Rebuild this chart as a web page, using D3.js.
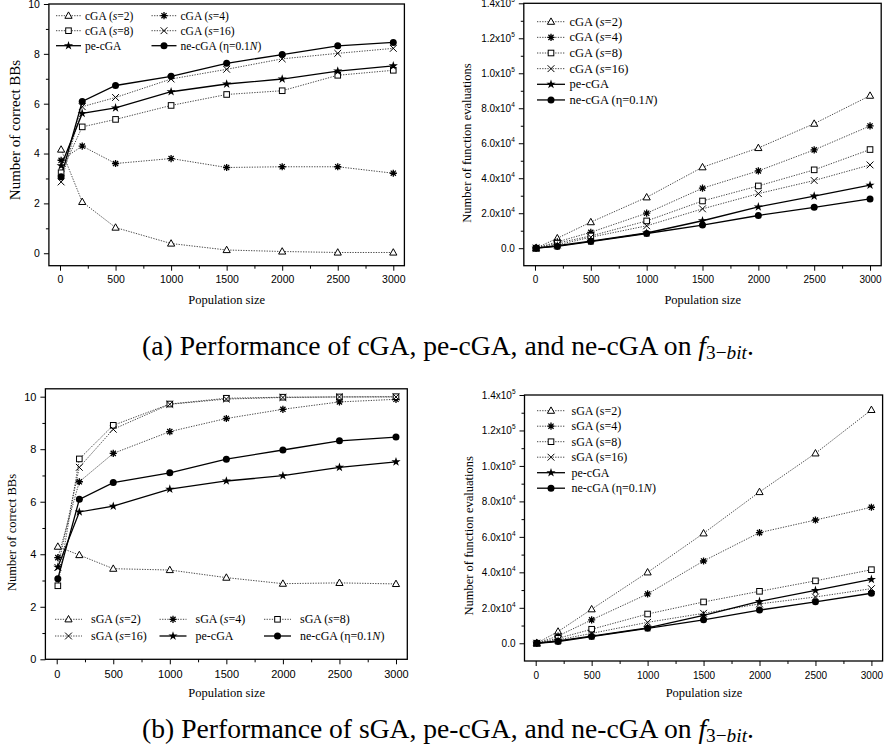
<!DOCTYPE html>
<html><head><meta charset="utf-8">
<script src="https://cdn.jsdelivr.net/npm/d3@7"></script>
<style>body{margin:0;background:#fff}</style>
</head><body>
<svg id="fig" width="884" height="749"></svg>
<script>
// Population sizes tested
const popSizes = [10, 200, 500, 1000, 1500, 2000, 2500, 3000];

// Number of correct building blocks
const bbCGA2  = [4.16, 2.06, 1.03, 0.39, 0.13, 0.07, 0.03, 0.03];
const bbCGA4  = [3.73, 4.30, 3.60, 3.80, 3.44, 3.47, 3.47, 3.21];
const bbCGA8  = [3.23, 5.07, 5.37, 5.93, 6.37, 6.52, 7.14, 7.34];
const bbCGA16 = [2.86, 5.88, 6.25, 6.99, 7.38, 7.80, 8.02, 8.22];
const bbSGA2  = [4.29, 3.97, 3.45, 3.40, 3.11, 2.88, 2.91, 2.87];
const bbSGA4  = [3.87, 6.76, 7.84, 8.67, 9.17, 9.52, 9.80, 9.90];
const bbSGA8  = [2.80, 7.63, 8.91, 9.72, 9.94, 9.98, 9.99, 10.0];
const bbSGA16 = [3.50, 7.31, 8.76, 9.71, 9.91, 9.97, 9.99, 9.99];
const bbPE    = [3.51, 5.61, 5.83, 6.48, 6.79, 6.99, 7.31, 7.52];
const bbNE    = [3.07, 6.09, 6.73, 7.10, 7.62, 7.97, 8.32, 8.46];

// Number of function evaluations
const feCGA2  = [60, 5700, 14900, 29100, 46300, 57300, 71200, 87200];
const feCGA4  = [50, 3600, 9100, 20000, 34300, 44200, 56200, 69900];
const feCGA8  = [40, 2900, 7000, 15600, 27000, 35600, 44800, 56400];
const feCGA16 = [30, 1900, 6300, 12800, 22500, 31200, 38700, 47600];
const feSGA2  = [60, 6600, 19200, 40000, 62000, 85300, 107100, 131600];
const feSGA4  = [50, 4100, 13200, 27800, 46400, 62400, 69500, 76700];
const feSGA8  = [40, 2800, 7900, 16500, 23300, 29300, 35200, 41500];
const feSGA16 = [30, 1900, 5600, 11800, 16900, 22200, 26100, 30800];
const fePE    = [20, 1400, 4000, 8700, 15700, 23600, 29800, 36000];
const feNE    = [10, 1000, 3800, 8400, 13200, 18700, 23400, 28200];

// Axis tick values
const xTicks = [0, 500, 1000, 1500, 2000, 2500, 3000];
const xMinor = [250, 750, 1250, 1750, 2250, 2750];
const bbTicks = [0, 2, 4, 6, 8, 10];
const bbMinor = [1, 3, 5, 7, 9];
const feTicks = [0, 20000, 40000, 60000, 80000, 100000, 120000, 140000];
const feMinor = [10000, 30000, 50000, 70000, 90000, 110000, 130000];

// Legend label pieces: [text, italic]
const lab = (alg, s, italicS) => [[alg + " (", false], ["s", italicS], ["=" + s + ")", false]];
const labPE = [["pe-cGA", false]];
const labNE = [["ne-cGA (\u03b7=0.1", false], ["N", true], [")", false]];

const SERIF = "'Liberation Serif','Times New Roman',serif";
const SANS = "'Liberation Sans',Arial,sans-serif";

const svg = d3.select("#fig");

// Marker glyphs
function drawMarker(g, type, x, y) {
  const s = g.append("g").attr("transform", `translate(${x},${y})`);
  if (type === "tri") {
    s.append("path").attr("d", "M0,-3.8L3.6,2.6L-3.6,2.6Z")
      .attr("fill", "#fff").attr("stroke", "#000").attr("stroke-width", 1);
  } else if (type === "sq") {
    s.append("rect").attr("x", -2.8).attr("y", -2.8).attr("width", 5.6).attr("height", 5.6)
      .attr("fill", "#fff").attr("stroke", "#000").attr("stroke-width", 1);
  } else if (type === "ast") {
    const r = 3.6;
    s.append("path")
      .attr("d", `M${-r},0H${r}M0,${-r}V${r}M${-r*0.72},${-r*0.72}L${r*0.72},${r*0.72}M${-r*0.72},${r*0.72}L${r*0.72},${-r*0.72}`)
      .attr("stroke", "#000").attr("stroke-width", 1.3);
  } else if (type === "x") {
    const r = 3.4;
    s.append("path").attr("d", `M${-r},${-r}L${r},${r}M${-r},${r}L${r},${-r}`)
      .attr("stroke", "#000").attr("stroke-width", 1);
  } else if (type === "star") {
    s.append("path").attr("d", d3.symbol(d3.symbolStar, 26)()).attr("fill", "#000");
  } else if (type === "dot") {
    s.append("circle").attr("r", 3.5).attr("fill", "#000");
  }
}

function lineStyle(sel, dotted) {
  sel.attr("fill", "none").attr("stroke", dotted ? "#333" : "#000")
    .attr("stroke-width", dotted ? 0.9 : 1.3)
    .attr("stroke-dasharray", dotted ? "1.3,1.3" : null);
}

function writeLabel(textSel, parts) {
  parts.forEach(([t, it]) => {
    textSel.append("tspan").text(t).attr("font-style", it ? "italic" : "normal");
  });
}

function supFormat(v) {
  if (v === 0) return ["0.0", null];
  const e = Math.floor(Math.log10(v));
  return [(v / Math.pow(10, e)).toFixed(1) + "x10", String(e)];
}

function panel(cfg) {
  const g = svg.append("g");
  const x = d3.scaleLinear().domain([-100, 3100]).range([cfg.left, cfg.right]);
  const y = d3.scaleLinear().domain(cfg.yDomain).range([cfg.bottom, cfg.top]);

  // minor and major ticks
  const gx = g.append("g").attr("transform", `translate(0,${cfg.bottom})`);
  gx.call(d3.axisBottom(x).tickValues(xMinor).tickSize(3).tickFormat(""));
  const gxM = g.append("g").attr("transform", `translate(0,${cfg.bottom})`);
  gxM.call(d3.axisBottom(x).tickValues(xTicks).tickSize(5).tickPadding(cfg.xPad).tickFormat(d3.format("d")));
  const gy = g.append("g").attr("transform", `translate(${cfg.left},0)`);
  gy.call(d3.axisLeft(y).tickValues(cfg.yMinor).tickSize(3).tickFormat(""));
  const gyM = g.append("g").attr("transform", `translate(${cfg.left},0)`);
  gyM.call(d3.axisLeft(y).tickValues(cfg.yTicks).tickSize(5).tickPadding(4)
    .tickFormat(cfg.sci ? (d => supFormat(d)[0]) : d3.format("d")));
  [gx, gxM, gy, gyM].forEach(a => {
    a.select(".domain").remove();
    a.selectAll(".tick line").attr("stroke", "#000").attr("stroke-width", 1);
    a.selectAll("text").attr("font-family", SANS).attr("font-size", cfg.tickFont).attr("fill", "#000");
  });
  if (cfg.sci) {
    gyM.selectAll(".tick text").each(function(d) {
      const [m, e] = supFormat(d);
      const t = d3.select(this).text(null);
      t.append("tspan").text(m);
      if (e) t.append("tspan").text(e).attr("dy", -5).attr("font-size", 6.5);
    });
  }

  // frame
  g.append("rect").attr("x", cfg.left).attr("y", cfg.top)
    .attr("width", cfg.right - cfg.left).attr("height", cfg.bottom - cfg.top)
    .attr("fill", "none").attr("stroke", "#000").attr("stroke-width", 1.3);

  // series
  const line = d3.line().x((d, i) => x(popSizes[i])).y(d => y(d));
  cfg.series.forEach(s => {
    g.append("path").datum(s.values).attr("d", line).call(lineStyle, s.dotted);
  });
  cfg.series.forEach(s => {
    s.values.forEach((v, i) => drawMarker(g, s.marker, x(popSizes[i]), y(v)));
  });

  // legend
  cfg.series.forEach((s, i) => {
    const [lx, ly] = cfg.legendPos(i);
    g.append("line").attr("x1", lx).attr("x2", lx + cfg.legLen).attr("y1", ly).attr("y2", ly)
      .call(lineStyle, s.dotted);
    drawMarker(g, s.marker, lx + cfg.legLen / 2, ly);
    const t = g.append("text").attr("x", lx + cfg.legLen + cfg.legGap).attr("y", ly + 4)
      .attr("font-family", SERIF).attr("font-size", cfg.legFont).attr("fill", "#000");
    writeLabel(t, s.label);
  });

  // axis titles
  g.append("text").attr("x", cfg.xTitle[0]).attr("y", cfg.xTitle[1]).attr("text-anchor", "middle")
    .attr("font-family", SERIF).attr("font-size", 12.5).text("Population size");
  g.append("text").attr("transform", `translate(${cfg.yTitle[0]},${cfg.yTitle[1]}) rotate(-90)`)
    .attr("text-anchor", "middle").attr("font-family", SERIF).attr("font-size", cfg.yTitleFont)
    .text(cfg.yLabel);
}

// (a) left: correct BBs for cGA variants
panel({
  left: 48.9, right: 404.4, top: 4, bottom: 265.7, yDomain: [-0.5, 10],
  yTicks: bbTicks, yMinor: bbMinor, sci: false, tickFont: 10.5, xPad: 5,
  series: [
    {values: bbCGA2, marker: "tri", dotted: true, label: lab("cGA", 2, true)},
    {values: bbCGA4, marker: "ast", dotted: true, label: lab("cGA", 4, true)},
    {values: bbCGA8, marker: "sq", dotted: true, label: lab("cGA", 8, true)},
    {values: bbCGA16, marker: "x", dotted: true, label: lab("cGA", 16, true)},
    {values: bbPE, marker: "star", dotted: false, label: labPE},
    {values: bbNE, marker: "dot", dotted: false, label: labNE}
  ],
  legendPos: i => [56 + (i % 2) * 95.5, 15.7 + Math.floor(i / 2) * 15],
  legLen: 25, legGap: 4, legFont: 11.5,
  xTitle: [226.7, 304], yTitle: [20, 130], yTitleFont: 15, yLabel: "Number of correct BBs"
});

// (a) right: function evaluations for cGA variants
panel({
  left: 523.8, right: 881.2, top: 3.3, bottom: 265.7, yDomain: [-10000, 140000],
  yTicks: feTicks, yMinor: feMinor, sci: true, tickFont: 10, xPad: 5,
  series: [
    {values: feCGA2, marker: "tri", dotted: true, label: lab("cGA", 2, true)},
    {values: feCGA4, marker: "ast", dotted: true, label: lab("cGA", 4, true)},
    {values: feCGA8, marker: "sq", dotted: true, label: lab("cGA", 8, true)},
    {values: feCGA16, marker: "x", dotted: true, label: lab("cGA", 16, true)},
    {values: fePE, marker: "star", dotted: false, label: labPE},
    {values: feNE, marker: "dot", dotted: false, label: labNE}
  ],
  legendPos: i => [537, 21.7 + i * 15.65],
  legLen: 28, legGap: 4.5, legFont: 12.5,
  xTitle: [702.8, 304], yTitle: [471, 143], yTitleFont: 12.5, yLabel: "Number of function evaluations"
});

// (b) left: correct BBs for sGA variants
panel({
  left: 45.4, right: 407.3, top: 388.8, bottom: 659.3, yDomain: [0, 10.3],
  yTicks: bbTicks, yMinor: bbMinor, sci: false, tickFont: 11, xPad: 6,
  series: [
    {values: bbSGA2, marker: "tri", dotted: true, label: lab("sGA", 2, true)},
    {values: bbSGA4, marker: "ast", dotted: true, label: lab("sGA", 4, true)},
    {values: bbSGA8, marker: "sq", dotted: true, label: lab("sGA", 8, true)},
    {values: bbSGA16, marker: "x", dotted: true, label: lab("sGA", 16, true)},
    {values: bbPE, marker: "star", dotted: false, label: labPE},
    {values: bbNE, marker: "dot", dotted: false, label: labNE}
  ],
  legendPos: i => [55 + (i % 3) * 104.5, 619.3 + Math.floor(i / 3) * 16.7],
  legLen: 27, legGap: 9, legFont: 12,
  xTitle: [226.7, 697], yTitle: [15.5, 532.5], yTitleFont: 12.5, yLabel: "Number of correct BBs"
});

// (b) right: function evaluations for sGA variants
panel({
  left: 524.5, right: 882.6, top: 395, bottom: 661, yDomain: [-10000, 140000],
  yTicks: feTicks, yMinor: feMinor, sci: true, tickFont: 10, xPad: 6,
  series: [
    {values: feSGA2, marker: "tri", dotted: true, label: lab("sGA", 2, false)},
    {values: feSGA4, marker: "ast", dotted: true, label: lab("sGA", 4, false)},
    {values: feSGA8, marker: "sq", dotted: true, label: lab("sGA", 8, false)},
    {values: feSGA16, marker: "x", dotted: true, label: lab("sGA", 16, false)},
    {values: fePE, marker: "star", dotted: false, label: labPE},
    {values: feNE, marker: "dot", dotted: false, label: labNE}
  ],
  legendPos: i => [537, 410.7 + i * 15.5],
  legLen: 28, legGap: 6.5, legFont: 12,
  xTitle: [704, 697], yTitle: [472.5, 535.8], yTitleFont: 12.5, yLabel: "Number of function evaluations"
});

// Sub-figure captions, sized to span the measured width
function caption(prefix, cy) {
  const t = svg.append("text").attr("x", 448).attr("y", cy).attr("text-anchor", "middle")
    .attr("font-family", SERIF).attr("font-size", 20).attr("fill", "#000");
  t.append("tspan").text(prefix + " on ");
  t.append("tspan").text("f").attr("font-style", "italic");
  t.append("tspan").text("3\u2212").attr("font-size", 14).attr("dy", 4);
  t.append("tspan").text("bit").attr("font-size", 14).attr("font-style", "italic");
  t.append("tspan").text(".").attr("dy", -4);
  const w = t.node().getComputedTextLength();
  const fs = 20 * 612 / w;
  t.attr("font-size", fs);
  t.selectAll("tspan").filter(function() { return this.getAttribute("font-size"); })
    .attr("font-size", fs * 0.7);
}
caption("(a) Performance of cGA, pe-cGA, and ne-cGA", 355);
caption("(b) Performance of sGA, pe-cGA, and ne-cGA", 738);
</script>
</body></html>
